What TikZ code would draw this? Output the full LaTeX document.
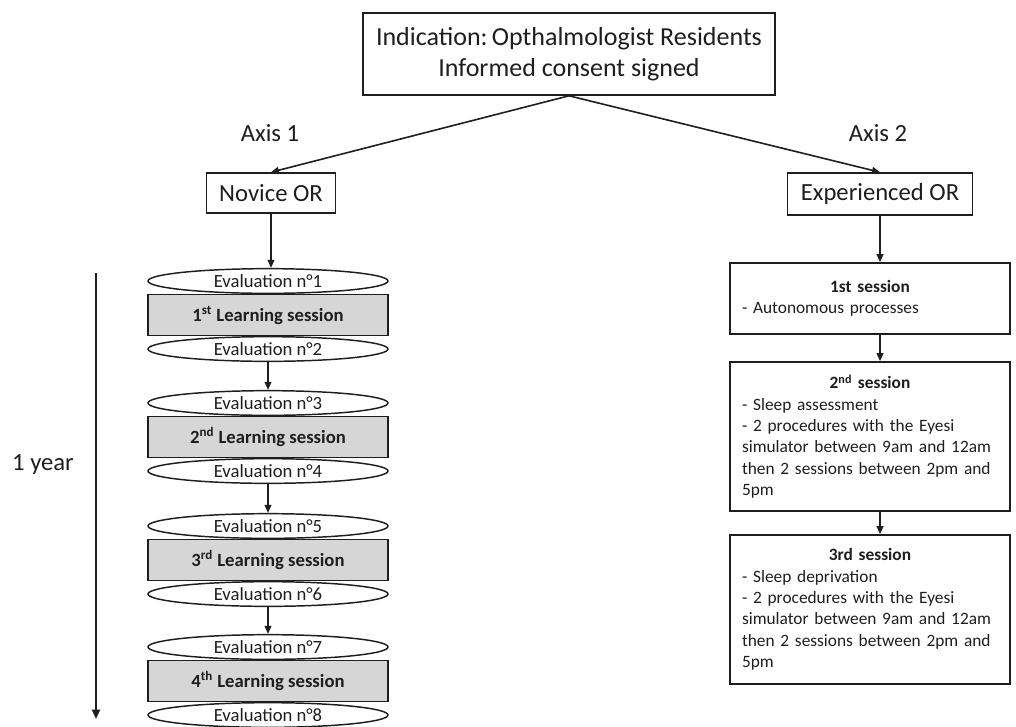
\documentclass[tikz,border=0pt]{standalone}
\usepackage{fontspec}
\setmainfont{Carlito}
\usetikzlibrary{shapes.geometric,arrows.meta}
\definecolor{lgray}{HTML}{D6D6D6}
\definecolor{ink}{HTML}{1E1E1E}
\begin{document}
\begin{tikzpicture}[x=0.75pt,y=-0.75pt,
  every node/.style={text=ink},
  box/.style={draw=ink,line width=1.2pt,inner sep=0pt,align=center},
  evalnode/.style={ellipse,draw=ink,line width=1.1pt,inner sep=0pt,minimum width=180pt,minimum height=18.5pt,font=\fontsize{14}{16}\selectfont},
  learnbox/.style={box,fill=lgray,minimum width=180pt,minimum height=30.5pt,font=\fontsize{14}{16}\selectfont\bfseries},
  sessbox/.style={draw=ink,line width=1.2pt,inner xsep=9pt,inner ysep=0pt,text width=192pt,align=left,font=\fontsize{13}{16}\selectfont},
  conn/.style={draw=ink,line width=1.2pt,-{Triangle[length=6pt,width=5pt]}},
  axislabel/.style={font=\fontsize{18.5}{20}\selectfont}
]
\useasboundingbox (0,0) rectangle (1016,726);

% top
\node[box,minimum width=309pt,minimum height=61.5pt,font=\fontsize{19.5}{23}\selectfont] (top) at (569,54)
  {Indication:\,Opthalmologist Residents\\Informed consent signed};

\node[axislabel] (ax1) at (270,133) {Axis 1};
\node[axislabel] (ax2) at (878,133) {Axis 2};

\node[box,minimum width=96.75pt,minimum height=30pt,font=\fontsize{18.5}{20}\selectfont] (nov) at (271,193) {Novice OR};
\node[box,minimum width=138.75pt,minimum height=31.5pt,font=\fontsize{18.5}{20}\selectfont] (exp) at (880,194) {Experienced OR};

\draw[conn] (top.south) -- (nov.north);
\draw[conn] (top.south) -- (exp.north);

% left column
\node[evalnode] (e1) at (268,281) {Evaluation n°1};
\node[learnbox] (b1) at (268,315) {1\textsuperscript{st} Learning session};
\node[evalnode] (e2) at (268,349) {Evaluation n°2};
\node[evalnode] (e3) at (268,403) {Evaluation n°3};
\node[learnbox] (b2) at (268,437) {2\textsuperscript{nd} Learning session};
\node[evalnode] (e4) at (268,471) {Evaluation n°4};
\node[evalnode] (e5) at (268,526) {Evaluation n°5};
\node[learnbox] (b3) at (268,560) {3\textsuperscript{rd} Learning session};
\node[evalnode] (e6) at (268,594) {Evaluation n°6};
\node[evalnode] (e7) at (268,647) {Evaluation n°7};
\node[learnbox] (b4) at (268,681) {4\textsuperscript{th} Learning session};
\node[evalnode] (e8) at (268,715) {Evaluation n°8};

\draw[conn] (nov.south) -- (nov.south |- e1.north);
\draw[conn] (e2.south) -- (e3.north);
\draw[conn] (e4.south) -- (e5.north);
\draw[conn] (e6.south) -- (e7.north);

% time axis
\coordinate (tA) at (96,273);
\coordinate (tB) at (96,719);
\draw[draw=ink,line width=1.5pt,-{Triangle[length=7pt,width=6pt]}] (tA) -- (tB);
\node[font=\fontsize{18.5}{20}\selectfont] (yr) at (43,465) {1 year};

% right column
\node[sessbox,minimum height=53.25pt] (s1) at (870,298.5)
  {{\centering\bfseries 1st session\par}- Autonomous processes};
\node[sessbox,minimum height=111.75pt] (s2) at (870,436.5)
  {{\centering\bfseries 2\textsuperscript{nd} session\par}- Sleep assessment\\- 2 procedures with the Eyesi\\simulator between 9am and 12am\\then 2 sessions between 2pm and\\5pm};
\node[sessbox,minimum height=111.75pt] (s3) at (870,609.5)
  {{\centering\bfseries 3rd session\par}- Sleep deprivation\\- 2 procedures with the Eyesi\\simulator between 9am and 12am\\then 2 sessions between 2pm and\\5pm};

\draw[conn] (exp.south) -- (exp.south |- s1.north);
\draw[conn] (exp.south |- s1.south) -- (exp.south |- s2.north);
\draw[conn] (exp.south |- s2.south) -- (exp.south |- s3.north);
\end{tikzpicture}
\end{document}
